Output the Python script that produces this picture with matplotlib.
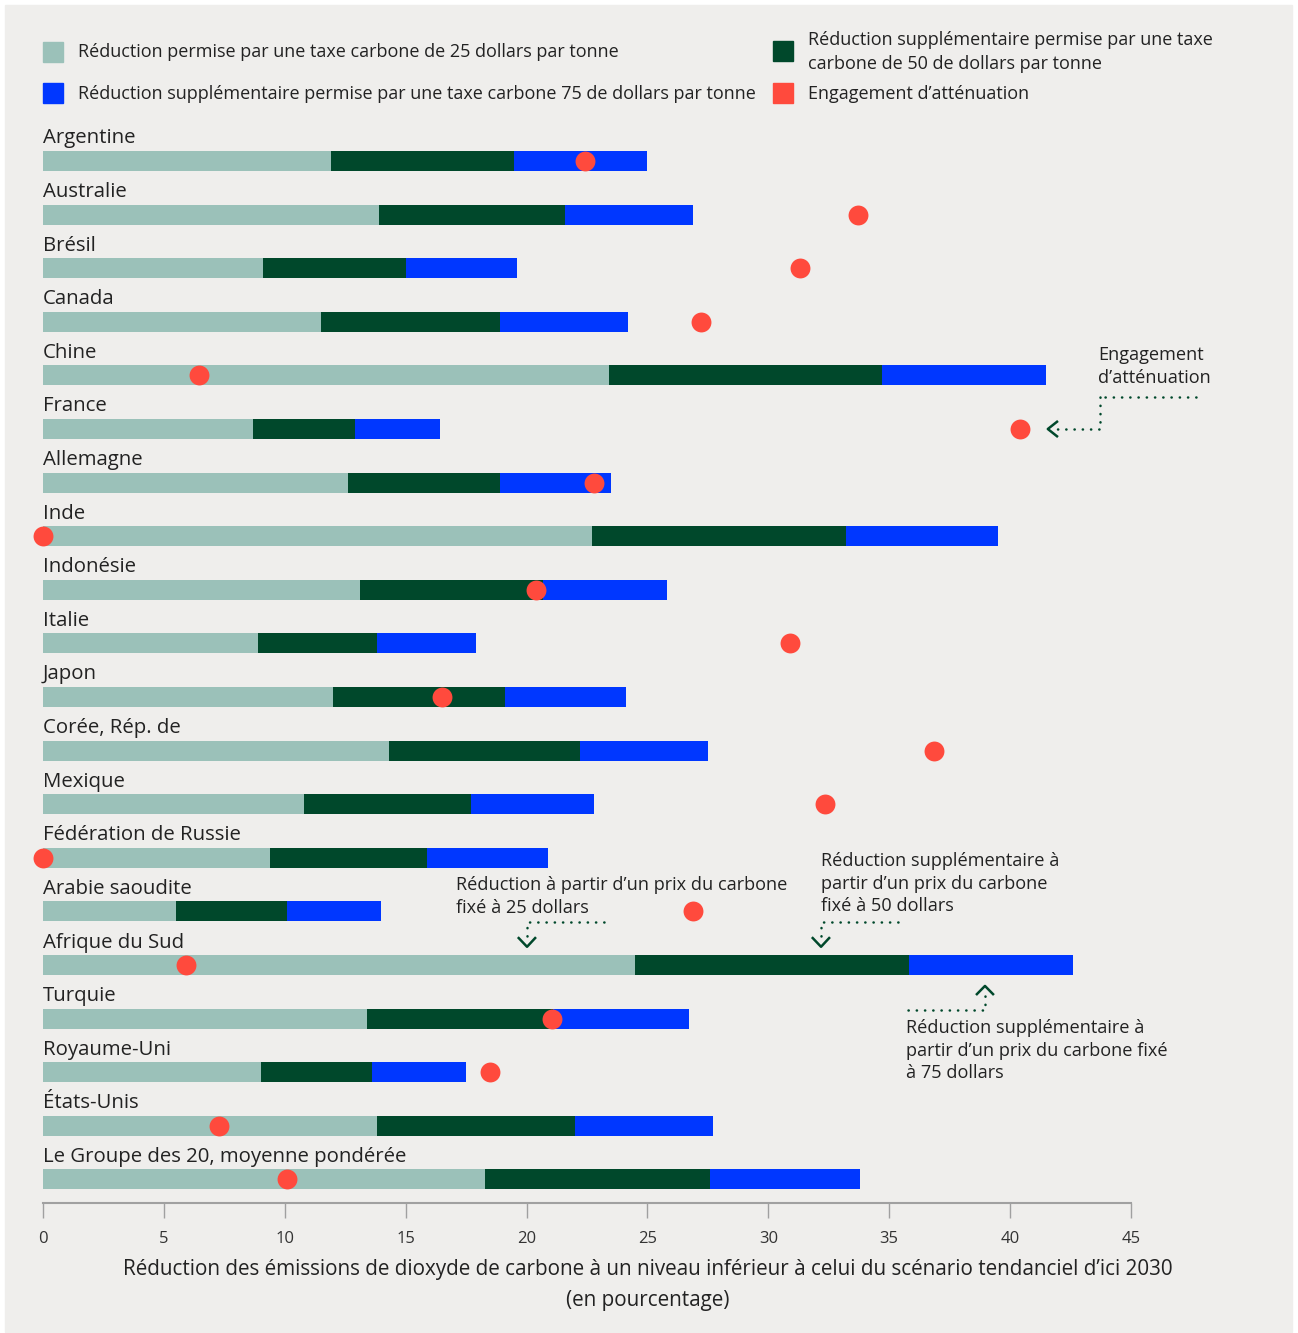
import numpy as np
import matplotlib.pyplot as plt
from matplotlib.patches import Rectangle

plt.rcParams['font.family'] = ['Open Sans', 'DejaVu Sans']

countries = ["Argentine", "Australie", "Brésil", "Canada", "Chine", "France", "Allemagne",
             "Inde", "Indonésie", "Italie", "Japon", "Corée, Rép. de", "Mexique",
             "Fédération de Russie", "Arabie saoudite", "Afrique du Sud", "Turquie",
             "Royaume-Uni", "États-Unis", "Le Groupe des 20, moyenne pondérée"]
tax25 = [11.9, 13.9, 9.1, 11.5, 23.4, 8.7, 12.6, 22.7, 13.1, 8.9, 12.0, 14.3, 10.8, 9.4, 5.5, 24.5, 13.4, 9.0, 13.8, 18.3]
extra50 = [7.6, 7.7, 5.9, 7.4, 11.3, 4.2, 6.3, 10.5, 7.6, 4.9, 7.1, 7.9, 6.9, 6.5, 4.6, 11.3, 7.7, 4.6, 8.2, 9.3]
extra75 = [5.5, 5.3, 4.6, 5.3, 6.8, 3.5, 4.6, 6.3, 5.1, 4.1, 5.0, 5.3, 5.1, 5.0, 3.9, 6.8, 5.6, 3.9, 5.7, 6.2]
pledge = [22.4, 33.7, 31.3, 27.2, 6.45, 40.4, 22.8, 0.0, 20.4, 30.9, 16.5, 36.85, 32.35, 0.0, 26.9, 5.9, 21.05, 18.5, 7.3, 10.1]

c25 = "#9bc1b9"
c50 = "#00482b"
c75 = "#0037ff"
cred = "#ff4a3d"
bg = "#efeeec"
txt = "#222222"

W, H = 1298, 1333
fig = plt.figure(figsize=(W / 100, H / 100), dpi=100)
fig.patches.append(Rectangle((5 / W, 1 - 1332 / H), 1287 / W, 1327 / H,
                             transform=fig.transFigure, color=bg, zorder=-10))

ax = fig.add_axes([43 / W, 1 - 1203 / H, 1088 / W, (1203 - 120) / H])
ax.set_facecolor("none")

y = np.arange(len(countries))
t25 = np.array(tax25)
e50 = np.array(extra50)
e75 = np.array(extra75)
bh = 0.373
ax.barh(y, t25, height=bh, color=c25, zorder=2)
ax.barh(y, e50, left=t25, height=bh, color=c50, zorder=2)
ax.barh(y, e75, left=t25 + e50, height=bh, color=c75, zorder=2)
ax.scatter(pledge, y, s=205, color=cred, zorder=4, clip_on=False, linewidths=0)

for i, name in enumerate(countries):
    ax.text(0, i - 0.42, name, fontsize=14.7, color=txt, va="center", ha="left")

ax.set_xlim(0, 45)
ax.set_ylim(19.44, -0.765)
ax.set_yticks([])
for s in ["top", "right", "left"]:
    ax.spines[s].set_visible(False)
ax.spines["bottom"].set_color("#a0a0a0")
ax.spines["bottom"].set_linewidth(1.5)
ax.set_xticks(range(0, 50, 5))
ax.tick_params(axis="x", length=11, width=1, color="#a0a0a0", pad=9,
               labelsize=12, labelcolor="#333333")
ax.set_xlabel("Réduction des émissions de dioxyde de carbone à un niveau inférieur à celui du scénario tendanciel d’ici 2030\n(en pourcentage)",
              fontsize=14.9, color=txt, labelpad=9, linespacing=1.6)
ax.xaxis.label.set_x(0.556)

# annotations
dot = dict(color=c50, lw=1.8, linestyle=(0, (0.1, 3.2)), dash_capstyle="round",
           clip_on=False, zorder=3)
chev = dict(color=c50, lw=1.8, clip_on=False, zorder=3, solid_capstyle="butt")
afs = 13.1
als = 1.33

ax.text(43.63, 3.83, "Engagement\nd’atténuation", fontsize=afs, color=txt,
        va="center", ha="left", linespacing=als)
ax.plot([47.7, 43.71], [4.40, 4.40], **dot)
ax.plot([43.71, 43.71, 41.9], [4.40, 5.0, 5.0], **dot)
ax.plot([41.98, 41.56, 41.98], [4.85, 5.0, 5.15], **chev)

ax.text(17.08, 13.72, "Réduction à partir d’un prix du carbone\nfixé à 25 dollars", fontsize=afs,
        color=txt, va="center", ha="left", linespacing=als)
ax.plot([23.2, 20.02, 20.02], [14.20, 14.20, 14.45], **dot)
ax.plot([19.64, 20.02, 20.39], [14.48, 14.66, 14.48], **chev)

ax.text(32.18, 13.48, "Réduction supplémentaire à\npartir d’un prix du carbone\nfixé à 50 dollars",
        fontsize=afs, color=txt, va="center", ha="left", linespacing=als)
ax.plot([35.36, 32.18, 32.18], [14.20, 14.20, 14.45], **dot)
ax.plot([31.8, 32.18, 32.55], [14.48, 14.66, 14.48], **chev)

ax.text(35.69, 16.6, "Réduction supplémentaire à\npartir d’un prix du carbone fixé\nà 75 dollars",
        fontsize=afs, color=txt, va="center", ha="left", linespacing=als)
ax.plot([35.77, 38.96, 38.96], [15.84, 15.84, 15.58], **dot)
ax.plot([38.59, 38.96, 39.33], [15.56, 15.39, 15.56], **chev)

# legend
def leg(x, ytop, color, label, ty):
    fig.patches.append(Rectangle((x / W, 1 - (ytop + 20) / H), 20 / W, 20 / H,
                                 transform=fig.transFigure, color=color))
    fig.text((x + 35) / W, 1 - ty / H, label, fontsize=13, color=txt,
             va="center", ha="left", linespacing=1.38)

leg(43, 42, c25, "Réduction permise par une taxe carbone de 25 dollars par tonne", 52)
leg(43, 83, c75, "Réduction supplémentaire permise par une taxe carbone 75 de dollars par tonne", 94)
leg(773, 41, c50, "Réduction supplémentaire permise par une taxe\ncarbone de 50 de dollars par tonne", 52)
leg(773, 83, cred, "Engagement d’atténuation", 94)

plt.savefig("out.png", dpi=100)
